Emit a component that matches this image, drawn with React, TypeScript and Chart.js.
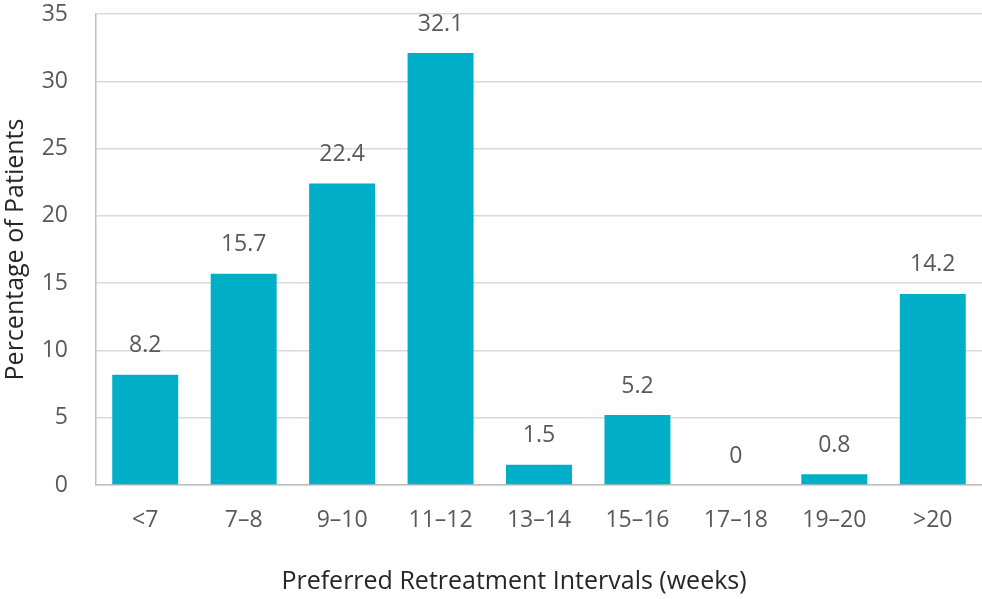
import React, { useEffect, useRef } from "react";
import { Chart, registerables } from "chart.js";

Chart.register(...registerables);

const categories = ["<7", "7–8", "9–10", "11–12", "13–14", "15–16", "17–18", "19–20", ">20"];
const values = [8.2, 15.7, 22.4, 32.1, 1.5, 5.2, 0, 0.8, 14.2];
const valueLabels = ["8.2", "15.7", "22.4", "32.1", "1.5", "5.2", "0", "0.8", "14.2"];
const xTitle = "Preferred Retreatment Intervals (weeks)";
const yTitle = "Percentage of Patients";

const FONT = "'Open Sans', 'Noto Sans', sans-serif";

const labelPlugin = {
  id: "valueLabels",
  afterDatasetsDraw(chart: any) {
    const ctx = chart.ctx;
    const meta = chart.getDatasetMeta(0);
    ctx.save();
    ctx.font = `23px ${FONT}`;
    ctx.fillStyle = "#595959";
    ctx.textAlign = "center";
    ctx.textBaseline = "middle";
    meta.data.forEach((bar: any, i: number) => {
      ctx.fillText(valueLabels[i], bar.x, bar.y - 29);
    });
    // x axis title, centred as in the reference (slightly left of plot centre)
    ctx.font = `25px ${FONT}`;
    ctx.fillStyle = "#262626";
    ctx.fillText(xTitle, 514, 582);
    ctx.restore();
  },
};

export default function App() {
  const ref = useRef<HTMLCanvasElement>(null);
  useEffect(() => {
    if (!ref.current) return;
    const chart = new Chart(ref.current, {
      type: "bar",
      data: {
        labels: categories,
        datasets: [
          {
            data: values,
            backgroundColor: "#00AEC7",
            categoryPercentage: 0.67,
            barPercentage: 1,
          },
        ],
      },
      options: {
        animation: false,
        responsive: false,
        maintainAspectRatio: false,
        layout: { padding: { top: 14, right: 0, left: 0, bottom: 0 } },
        plugins: { legend: { display: false }, tooltip: { enabled: false } },
        scales: {
          x: {
            grid: { display: false, drawTicks: false },
            border: { display: true, color: "#bfbfbf", width: 1.5 },
            ticks: { color: "#595959", font: { family: FONT, size: 23 }, padding: 22 },
            title: { display: false },
            afterFit: (s: any) => {
              s.height = 114;
              s.paddingLeft = 0;
              s.paddingRight = 0;
            },
          },
          y: {
            min: 0,
            max: 35,
            ticks: { stepSize: 5, color: "#595959", font: { family: FONT, size: 23 }, padding: 28 },
            grid: { color: "#d9d9d9", lineWidth: 1.5, drawTicks: false },
            border: { display: true, color: "#bfbfbf", width: 1.5 },
            title: {
              display: true,
              text: yTitle,
              color: "#262626",
              font: { family: FONT, size: 25 },
              padding: { top: 1, bottom: 1 },
            },
            afterFit: (s: any) => {
              s.width = 96;
              s.paddingTop = 0;
              s.paddingBottom = 0;
            },
          },
        },
      },
      plugins: [labelPlugin],
    });
    return () => chart.destroy();
  }, []);
  return (
    <div style={{ position: "fixed", left: 0, top: 0, width: 982, height: 599, background: "#fff" }}>
      <canvas ref={ref} width={982} height={599} style={{ width: 982, height: 599 }} />
    </div>
  );
}
